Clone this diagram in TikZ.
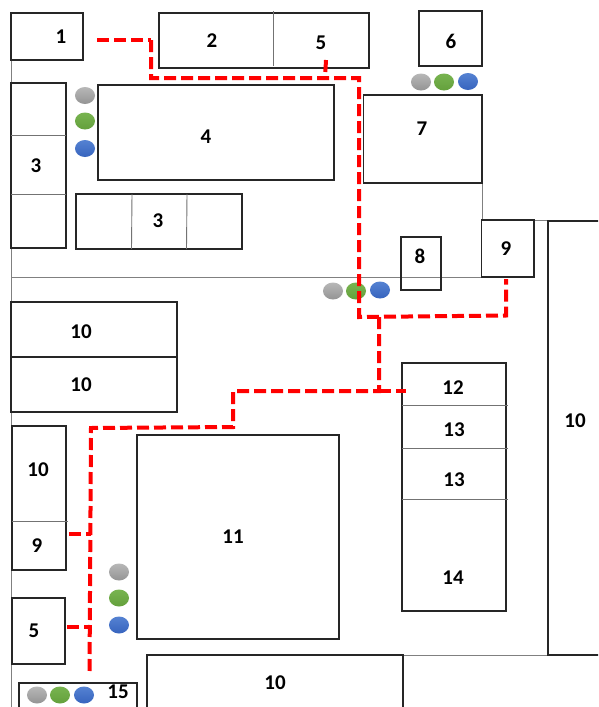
\documentclass[tikz,border=0pt]{standalone}
\usepackage{fontspec}
\setmainfont{Carlito}
\usetikzlibrary{shapes.geometric}

\begin{document}
\begin{tikzpicture}
    [x=1pt, y=-1pt,
    box/.style={draw=black!85, line width=1.2pt, inner sep=0pt, outer sep=0pt, anchor=north west},
    num/.style={inner sep=0pt, font=\fontsize{21}{21}\selectfont\bfseries},
    thin line/.style={draw=black!50, line width=1pt},
    part line/.style={draw=black!55, line width=0.9pt},
    route/.style={draw=red, line width=4pt, dash pattern=on 12pt off 5pt},
    dot/.style={ellipse, inner sep=0pt, minimum width=20pt, minimum height=17pt},
    grey dot/.style={dot, top color=black!28, bottom color=black!42},
    green dot/.style={dot, top color={rgb,255:red,120;green,180;blue,80}, bottom color={rgb,255:red,100;green,160;blue,60}},
    blue dot/.style={dot, top color={rgb,255:red,85;green,130;blue,210}, bottom color={rgb,255:red,55;green,100;blue,190}}]
        \clip (0,0) rectangle (598,707);
        \fill[white] (0,0) rectangle (598,707);

        %% Thin walls
        \draw[thin line] (11,60) -- (11,707);
        \draw[thin line] (11,277) -- (481,277);
        \draw[thin line] (482,183) -- (482,220);
        \draw[thin line] (534,220) -- (548,220);
        \draw[thin line] (403,655) -- (548,655);

        %% Top row
        \node[box, minimum width=72pt, minimum height=47pt] (B1) at (11,13) {};
        \node[box, minimum width=210pt, minimum height=55pt] (B2) at (159,13) {};
        \node[box, minimum width=63pt, minimum height=55pt] (B6) at (419,11) {};
        \draw[part line] (273,11) -- (273,66);

        %% Left block
        \node[box, minimum width=55pt, minimum height=165pt] (B3a) at (11,83) {};
        \draw[part line] (11,135) -- (66,135);
        \draw[part line] (11,194) -- (66,194);
        \node[box, minimum width=236pt, minimum height=95pt] (B4) at (98,85) {};
        \node[box, minimum width=166pt, minimum height=55pt] (B3b) at (76,194) {};
        \draw[part line] (132,194) -- (131.5,249);
        \draw[part line] (187,194) -- (186.5,249);

        %% Right block
        \node[box, minimum width=118.5pt, minimum height=88pt] (B7) at (363.5,95) {};
        \node[box, minimum width=40pt, minimum height=53pt] (B8) at (401,237) {};
        \node[box, minimum width=52.5pt, minimum height=57pt] (B9a) at (481.5,220) {};
        \node[box, minimum width=60pt, minimum height=434pt] (B10a) at (548,221) {};

        %% Lower left
        \node[box, minimum width=166pt, minimum height=55pt] (B10b) at (11,302) {};
        \node[box, minimum width=166pt, minimum height=55pt] (B10c) at (11,357) {};
        \node[box, minimum width=54pt, minimum height=144pt] (B10d) at (12,426) {};
        \draw[part line] (12,521) -- (68,521);
        \node[box, minimum width=53pt, minimum height=66pt] (B5b) at (12,598) {};
        \node[box, minimum width=118pt, minimum height=40pt] (B15) at (19,683) {};

        %% Centre and lower right
        \node[box, minimum width=202pt, minimum height=204pt] (B11) at (137,435) {};
        \node[box, minimum width=256pt, minimum height=70pt] (B10e) at (147,655) {};
        \node[box, minimum width=104pt, minimum height=248pt] (B12) at (402,363) {};
        \draw[part line] (402,405) -- (508,405);
        \draw[part line] (402,448) -- (508,448);
        \draw[part line] (402,499) -- (508,499);

        %% Dots
        \node[grey dot] (G1) at (85,95.5) {};
        \node[green dot] (N1) at (85,121) {};
        \node[blue dot] (L1) at (85,148.5) {};
        \node[grey dot] (G2) at (421,82) {};
        \node[green dot] (N2) at (444,82) {};
        \node[blue dot] (L2) at (468,81.5) {};
        \node[grey dot] (G3) at (333,291) {};
        \node[green dot] (N3) at (356,291) {};
        \node[blue dot] (L3) at (380,290) {};
        \node[grey dot] (G4) at (119,572) {};
        \node[green dot] (N4) at (119,598) {};
        \node[blue dot] (L4) at (119,625) {};
        \node[grey dot] (G5) at (37,695) {};
        \node[green dot] (N5) at (60,695) {};
        \node[blue dot] (L5) at (84,695) {};

        %% Red route
        \coordinate (R1) at (97,40);
        \coordinate (R2) at (151,40);
        \coordinate (R3) at (151,78);
        \coordinate (R4) at (359,78);
        \coordinate (R5) at (359,317);
        \coordinate (R6) at (506,315.5);
        \coordinate (R7) at (506,279);
        \coordinate (R8) at (326,60);
        \coordinate (R9) at (325,78);
        \coordinate (R10) at (379,317);
        \coordinate (R11) at (379,391);
        \coordinate (R12) at (406,391);
        \coordinate (R13) at (233,391);
        \coordinate (R14) at (233,427);
        \coordinate (R15) at (91,428);
        \coordinate (R16) at (89.5,675);
        \coordinate (R17) at (69,534);
        \coordinate (R18) at (91,534);
        \coordinate (R19) at (67,627);
        \coordinate (R20) at (90,627);
        \draw[route] (R1) -- (R2);
        \draw[route] (R2) -- (R3) -- (R4) -- (R5) -- (R6) -- (R7);
        \draw[route] (R8) -- (R9);
        \draw[route] (R10) -- (R11) -- (R13) -- (R14) -- (R15) -- (R16);
        \draw[route] (R11) -- (R12);
        \draw[route] (R17) -- (R18);
        \draw[route] (R19) -- (R20);

        %% Numbers
        \node[num] (T1) at (61,37) {1};
        \node[num] (T2) at (212,41) {2};
        \node[num] (T5a) at (321,43) {5};
        \node[num] (T6) at (451,41) {6};
        \node[num] (T4) at (206,137) {4};
        \node[num] (T7) at (422,129) {7};
        \node[num] (T3a) at (36,166) {3};
        \node[num] (T3b) at (158,221) {3};
        \node[num] (T8) at (420,256) {8};
        \node[num] (T9a) at (506,249) {9};
        \node[num] (T10a) at (575,421) {10};
        \node[num] (T10b) at (81,332) {10};
        \node[num] (T10c) at (81,385) {10};
        \node[num] (T12) at (453,388) {12};
        \node[num] (T13a) at (454,430) {13};
        \node[num] (T13b) at (454,480) {13};
        \node[num] (T14) at (453,578) {14};
        \node[num] (T11) at (233,537) {11};
        \node[num] (T10d) at (38,470) {10};
        \node[num] (T9b) at (37,546) {9};
        \node[num] (T5b) at (34,631) {5};
        \node[num] (T15) at (118,692) {15};
        \node[num] (T10e) at (275,683) {10};
\end{tikzpicture}
\end{document}
